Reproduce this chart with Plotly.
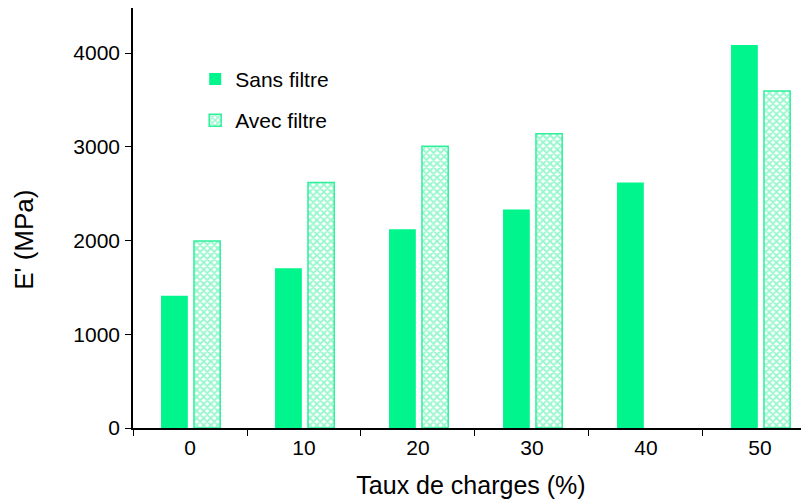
import plotly.graph_objects as go

taux = ["0", "10", "20", "30", "40", "50"]
sans_filtre = [1410, 1705, 2120, 2330, 2620, 4085]
avec_filtre = [1995, 2620, 3005, 3140, None, 3595]

vert = "#00F58C"
vert_clair = "#2EF09A"

fig = go.Figure()

fig.add_trace(go.Bar(
    x=taux, y=sans_filtre, name="Sans filtre",
    width=0.235, offset=-0.254,
    marker=dict(color=vert, line=dict(width=0)),
    legendgroup="a",
))
fig.add_trace(go.Bar(
    x=taux, y=avec_filtre, name="Avec filtre",
    width=0.23, offset=0.035,
    marker=dict(color="white", line=dict(color=vert_clair, width=1.5),
                pattern=dict(shape="x", fgcolor=vert_clair, bgcolor="white",
                             size=5, solidity=0.6)),
    legendgroup="b",
))

# la page ajoute 8 px de marge autour du graphique
fig.update_layout(
    width=809, height=502,
    margin=dict(l=125, r=8, t=0, b=82),
    paper_bgcolor="white", plot_bgcolor="white",
    font=dict(family="Liberation Sans, Arial", size=21, color="black"),
    barmode="overlay",
    showlegend=True,
    legend=dict(x=0.092, y=0.879, xanchor="left", yanchor="top",
                bgcolor="rgba(0,0,0,0)", font=dict(size=21),
                tracegroupgap=11, itemwidth=30),
    xaxis=dict(
        type="category", range=[-0.5, 5.43], automargin=False,
        showline=True, linecolor="black", linewidth=1.5,
        ticks="outside", tickson="boundaries", ticklen=6, tickcolor="black",
        showgrid=False, zeroline=False,
        title=dict(text="Taux de charges (%)", font=dict(size=25), standoff=19),
    ),
    yaxis=dict(
        range=[0, 4480], tickvals=[0, 1000, 2000, 3000, 4000], automargin=False,
        showline=True, linecolor="black", linewidth=1.5,
        ticks="outside", ticklen=6, tickcolor="black",
        ticklabelstandoff=1,
        showgrid=False, zeroline=False,
    ),
    annotations=[dict(
        text="E' (MPa)", textangle=-90, font=dict(size=26),
        xref="paper", yref="paper", x=0, y=0.448, xshift=-109,
        xanchor="center", yanchor="middle", showarrow=False,
    )],
)

fig.write_html("out.html")
